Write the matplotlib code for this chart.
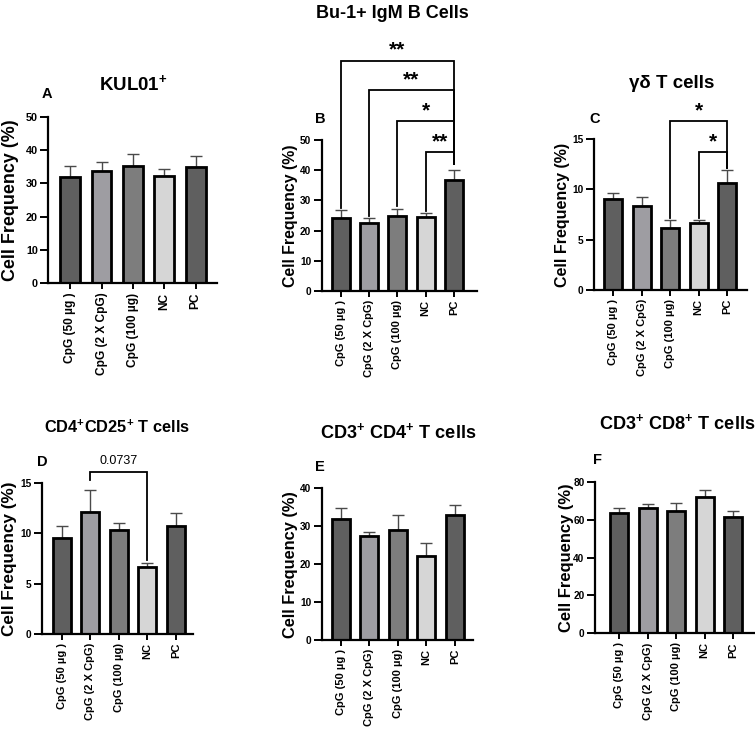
import matplotlib
matplotlib.use('Agg')
import matplotlib.pyplot as plt
import numpy as np

plt.rcParams['font.family'] = ['Liberation Sans', 'DejaVu Sans']
plt.rcParams['mathtext.fontset'] = 'custom'
plt.rcParams['mathtext.rm'] = 'Liberation Sans:bold'
plt.rcParams['mathtext.bf'] = 'Liberation Sans:bold'
plt.rcParams['mathtext.it'] = 'Liberation Sans:bold'
plt.rcParams['mathtext.default'] = 'bf'

# ---------------- data ----------------
groups = ["CpG (50 µg )", "CpG (2 X CpG)", "CpG (100 µg)", "NC", "PC"]
bar_colors = ['#5f5f5f', '#9e9da2', '#7d7d7d', '#d6d6d6', '#5f5f5f']

kul01_mean = [31.8, 33.6, 35.2, 32.3, 35.0]
kul01_err = [3.3, 2.8, 3.5, 2.0, 3.1]

bcell_mean = [24.1, 22.6, 24.9, 24.4, 36.8]
bcell_err = [2.7, 1.5, 2.3, 1.5, 3.3]

gd_mean = [9.0, 8.3, 6.2, 6.7, 10.66]
gd_err = [0.6, 0.9, 0.8, 0.3, 1.25]

cd25_mean = [9.5, 12.1, 10.3, 6.66, 10.7]
cd25_err = [1.2, 2.2, 0.7, 0.4, 1.25]

cd4_mean = [31.9, 27.4, 29.0, 22.1, 33.0]
cd4_err = [2.8, 1.2, 4.0, 3.4, 2.6]

cd8_mean = [63.3, 66.3, 64.7, 71.7, 61.3]
cd8_err = [2.6, 1.7, 3.8, 3.9, 3.0]

# significance comparisons: (i, j, bracket height, left leg end, right leg end, label)
bcell_sig = [(0, 4, 76.3, 27.5, 42.0, '**'),
             (1, 4, 66.6, 25.0, 42.0, '**'),
             (2, 4, 56.4, 28.0, 42.0, '*'),
             (3, 4, 45.9, 26.6, 42.0, '**')]
gd_sig = [(2, 4, 16.8, 7.2, 12.1, '*'),
          (3, 4, 13.7, 7.2, 12.1, '*')]
cd25_sig = [(1, 3, 16.06, 15.3, 7.3, '0.0737')]

W, H = 755, 730
fig = plt.figure(figsize=(W / 100, H / 100), dpi=100)


def make_ax(left, right, top, bottom):
    return fig.add_axes([left / W, 1 - bottom / H, (right - left) / W, (bottom - top) / H])


def draw_panel(ax, mean, err, ymax, ystep, xlim, sig=None, xfs=8.0, yfs=7.3,
               label_x=None, label_fs=11.5):
    x = np.arange(len(groups))
    ax.errorbar(x, mean, yerr=[np.zeros(len(err)), err], fmt='none',
                ecolor='#4a4a4a', elinewidth=1.0, capsize=4.5, capthick=1.0, zorder=1)
    ax.bar(x, mean, width=0.63, color=bar_colors, edgecolor='black', linewidth=2.0, zorder=2)
    ax.set_xlim(*xlim)
    ax.set_ylim(0, ymax)
    ax.set_yticks(np.arange(0, ymax + 0.01, ystep))
    ax.set_xticks(x)
    ax.set_xticklabels(groups, rotation=90, fontsize=xfs, fontweight='bold')
    for lab in ax.get_yticklabels():
        lab.set_fontweight('bold')
        lab.set_fontsize(yfs)
    for s in ['top', 'right']:
        ax.spines[s].set_visible(False)
    for s in ['left', 'bottom']:
        ax.spines[s].set_linewidth(1.6)
    ax.tick_params(axis='y', width=1.4, length=5.5, pad=2)
    ax.tick_params(axis='x', width=1.4, length=4.5, pad=2)
    bb = ax.get_position()
    fig.text(label_x / W, (bb.y0 + bb.y1) / 2, 'Cell Frequency (%)', rotation=90,
             ha='center', va='center', fontsize=label_fs, fontweight='bold')
    if sig:
        for i, j, h, l1, l2, txt in sig:
            ax.plot([i, i, j, j], [l1, h, h, l2], color='black', lw=1.3,
                    clip_on=False, zorder=3, solid_joinstyle='miter')
            if txt.startswith('*'):
                ax.text((i + j) / 2, h + ymax * 0.005, txt, ha='center', va='bottom',
                        fontsize=15, fontweight='bold', clip_on=False)
            else:
                ax.text((i + j) / 2, h + ymax * 0.03, txt, ha='center', va='bottom',
                        fontsize=9, clip_on=False)


axA = make_ax(48.3, 217, 116.7, 283.5)
draw_panel(axA, kul01_mean, kul01_err, 50, 10, (-0.7, 4.68), xfs=8.6, yfs=7.8,
           label_x=11, label_fs=12.9)

axB = make_ax(321.7, 477, 140, 291)
draw_panel(axB, bcell_mean, bcell_err, 50, 10, (-0.68, 4.82), bcell_sig,
           label_x=290, label_fs=11.4)

axC = make_ax(594, 747, 139, 290)
draw_panel(axC, gd_mean, gd_err, 15, 5, (-0.67, 4.7), gd_sig,
           label_x=562, label_fs=11.5)

axD = make_ax(41.7, 193, 482.7, 634)
draw_panel(axD, cd25_mean, cd25_err, 15, 5, (-0.71, 4.6), cd25_sig,
           label_x=10, label_fs=12.3)

axE = make_ax(321.7, 473.3, 488.3, 640)
draw_panel(axE, cd4_mean, cd4_err, 40, 10, (-0.67, 4.65),
           label_x=290.5, label_fs=11.8)

axF = make_ax(595, 755, 481.7, 633.3)
draw_panel(axF, cd8_mean, cd8_err, 80, 20, (-0.85, 4.77),
           label_x=567, label_fs=11.9)

# titles
tkw = dict(fontweight='bold', ha='center', va='center')
fig.text(392 / W, 1 - 14 / H, 'Bu-1+ IgM B Cells', fontsize=13, **tkw)
fig.text(133 / W, 1 - 84 / H, r'KUL01$^{+}$', fontsize=13.5, **tkw)
fig.text(672 / W, 1 - 84 / H, 'γδ T cells', fontsize=13.5, **tkw)
fig.text(117 / W, 1 - 427 / H, r'CD4$^{+}$CD25$^{+}$ T cells', fontsize=11.8, **tkw)
fig.text(398 / W, 1 - 432 / H, r'CD3$^{+}$ CD4$^{+}$ T cells', fontsize=13.1, **tkw)
fig.text(677 / W, 1 - 423 / H, r'CD3$^{+}$ CD8$^{+}$ T cells', fontsize=13.1, **tkw)

# panel letters
lkw = dict(fontsize=10.5, fontweight='bold', ha='center', va='center')
fig.text(47 / W, 1 - 94 / H, 'A', **lkw)
fig.text(320 / W, 1 - 119 / H, 'B', **lkw)
fig.text(595 / W, 1 - 119 / H, 'C', **lkw)
fig.text(42 / W, 1 - 462 / H, 'D', **lkw)
fig.text(320 / W, 1 - 467 / H, 'E', **lkw)
fig.text(598 / W, 1 - 460 / H, 'F', **lkw)

fig.savefig('out.png', dpi=100, facecolor='white')
